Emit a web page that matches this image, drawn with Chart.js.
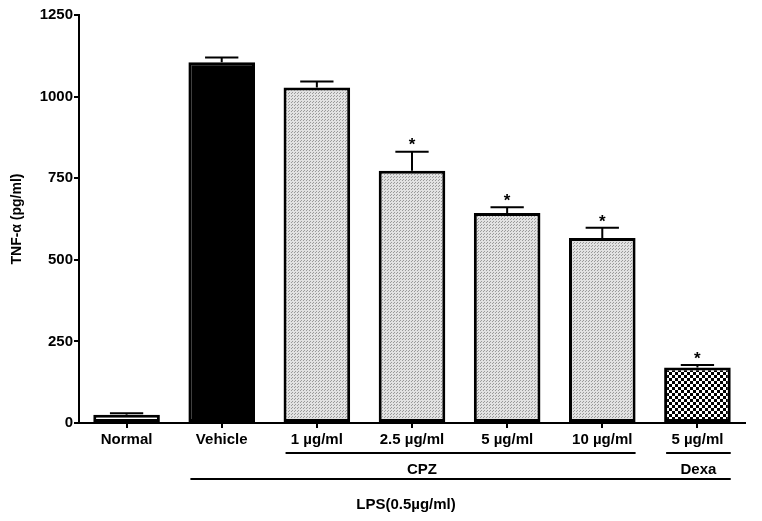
<!DOCTYPE html>
<html>
<head>
<meta charset="utf-8">
<script src="https://cdn.jsdelivr.net/npm/chart.js@4/dist/chart.umd.min.js"></script>
<style>
  html, body { margin: 0; padding: 0; background: #fff; }
  #wrap { width: 762px; height: 521px; }
</style>
</head>
<body>
<div id="wrap"><canvas id="tnfChart" width="762" height="521"></canvas></div>
<script>
// groups and values
const groups = ["Normal", "Vehicle", "1 µg/ml", "2.5 µg/ml", "5 µg/ml", "10 µg/ml", "5 µg/ml"];
const tnfMeans = [25, 1105, 1028, 773, 643, 567, 170];
const tnfErrors = [5, 15, 18, 58, 18, 31, 8];
const significant = [false, false, false, true, true, true, true];
const yTicks = [0, 250, 500, 750, 1000, 1250];

// bracket labels under the axis: [first index, last index, text, row]
const brackets = [
  [2, 5, "CPZ", 0],
  [6, 6, "Dexa", 0],
  [1, 6, "LPS(0.5µg/ml)", 1]
];

const FONT = "'Liberation Sans', Arial, sans-serif";

// fill patterns for the bars
function dotPattern() {
  const c = document.createElement("canvas");
  c.width = 3; c.height = 3;
  const g = c.getContext("2d");
  g.fillStyle = "#e2e2e2";
  g.fillRect(0, 0, 3, 3);
  g.fillStyle = "#9a9a9a";
  g.fillRect(0, 0, 1, 1);
  g.fillRect(1, 2, 1, 1);
  return g.createPattern(c, "repeat");
}

function checkPattern() {
  const c = document.createElement("canvas");
  c.width = 6; c.height = 6;
  const g = c.getContext("2d");
  g.fillStyle = "#000";
  g.fillRect(0, 0, 6, 6);
  g.fillStyle = "#fff";
  g.fillRect(0, 0, 3, 3);
  g.fillRect(3, 3, 3, 3);
  return g.createPattern(c, "repeat");
}

const dots = dotPattern();
const fills = ["#fff", "#000", dots, dots, dots, dots, checkPattern()];

// error bars, asterisks, brackets and y title
const extras = {
  id: "extras",
  afterDatasetsDraw(chart) {
    const ctx = chart.ctx;
    const y = chart.scales.y;
    const bars = chart.getDatasetMeta(0).data;
    ctx.save();
    ctx.strokeStyle = "#000";
    ctx.fillStyle = "#000";
    ctx.lineWidth = 2;
    bars.forEach((bar, i) => {
      const top = y.getPixelForValue(tnfMeans[i]);
      const hi = y.getPixelForValue(tnfMeans[i] + tnfErrors[i]);
      const half = bar.width / 4;
      ctx.beginPath();
      ctx.moveTo(bar.x, top);
      ctx.lineTo(bar.x, hi);
      ctx.moveTo(bar.x - half, hi);
      ctx.lineTo(bar.x + half, hi);
      ctx.stroke();
      if (significant[i]) {
        ctx.font = "bold 17px " + FONT;
        ctx.textAlign = "center";
        ctx.textBaseline = "middle";
        ctx.fillText("*", bar.x, hi - 6);
      }
    });
    ctx.restore();
  },
  afterDraw(chart) {
    const ctx = chart.ctx;
    const bars = chart.getDatasetMeta(0).data;
    const base = chart.chartArea.bottom;
    ctx.save();
    ctx.strokeStyle = "#000";
    ctx.fillStyle = "#000";
    ctx.lineWidth = 2;
    ctx.font = "bold 15px " + FONT;
    ctx.textAlign = "center";
    ctx.textBaseline = "middle";
    brackets.forEach(([a, b, text, row]) => {
      const x0 = bars[a].x - bars[a].width / 2 + 2;
      const x1 = bars[b].x + bars[b].width / 2;
      const ly = base + 30 + row * 26;
      ctx.beginPath();
      ctx.moveTo(x0, ly);
      ctx.lineTo(x1, ly);
      ctx.stroke();
      const tx = row === 0 && a !== b ? bars[3].x + 10 : (row === 1 ? 406 : (x0 + x1) / 2);
      ctx.fillText(text, tx, ly + (row === 0 ? 17 : 26));
    });
    // y axis title
    ctx.translate(17, (chart.chartArea.top + base) / 2);
    ctx.rotate(-Math.PI / 2);
    ctx.font = "bold 14px " + FONT;
    ctx.fillText("TNF-α (pg/ml)", 0, 0);
    ctx.restore();
  }
};

const ctx = document.getElementById("tnfChart").getContext("2d");
new Chart(ctx, {
  type: "bar",
  data: {
    labels: groups,
    datasets: [{
      data: tnfMeans,
      backgroundColor: fills,
      borderColor: "#000",
      borderWidth: 3,
      borderSkipped: false,
      categoryPercentage: 1,
      barPercentage: 0.7
    }]
  },
  options: {
    responsive: false,
    animation: false,
    devicePixelRatio: 1,
    layout: { padding: { left: 0, right: 17, top: 15, bottom: 0 } },
    plugins: {
      legend: { display: false },
      tooltip: { enabled: false }
    },
    scales: {
      x: {
        afterFit(scale) { scale.height = 98; },
        grid: { offset: false, drawOnChartArea: false, tickLength: 5, color: "#000", lineWidth: 2 },
        border: { color: "#000", width: 2 },
        ticks: { color: "#000", padding: 3, maxRotation: 0, autoSkip: false, font: { family: FONT, size: 15, weight: "bold" } }
      },
      y: {
        min: 0,
        max: 1250,
        afterFit(scale) { scale.width = 79; },
        afterBuildTicks(scale) { scale.ticks = yTicks.map(v => ({ value: v })); },
        grid: { drawOnChartArea: false, tickLength: 5, color: "#000", lineWidth: 2 },
        border: { color: "#000", width: 2 },
        ticks: {
          color: "#000",
          padding: 1,
          font: { family: FONT, size: 15, weight: "bold" },
          callback: v => String(v)
        }
      }
    }
  },
  plugins: [extras]
});
</script>
</body>
</html>
